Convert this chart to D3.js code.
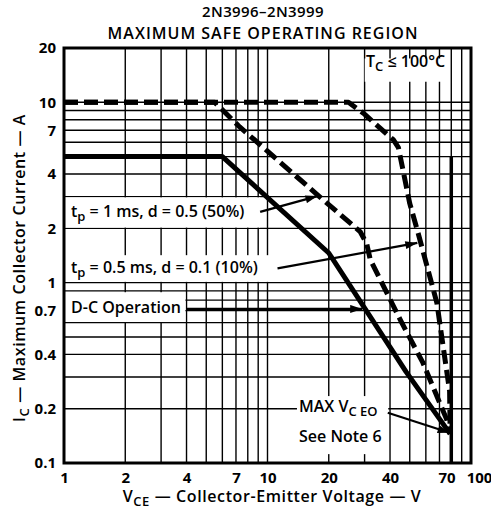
<!DOCTYPE html>
<html><head><meta charset="utf-8">
<script src="https://cdn.jsdelivr.net/npm/d3@7"></script>
<style>
body{margin:0;background:#fff;}
svg{display:block;font-family:"Open Sans","DejaVu Sans",sans-serif;}
</style></head><body>
<script>
// ---- data ----
const vceTicks = [1, 2, 4, 7, 10, 20, 40, 70, 100];
const icTicks = [0.1, 0.2, 0.4, 0.7, 1, 2, 4, 7, 10, 20];
const vceGrid = [2, 3, 4, 5, 6, 7, 8, 9, 10, 20, 30, 40, 50, 60, 70, 80, 90];
const icGrid = [0.2, 0.3, 0.4, 0.5, 0.6, 0.7, 0.8, 0.9, 1, 2, 3, 4, 5, 6, 7, 8, 9, 10];
// D-C operation
const dcV = [1, 6, 20, 48, 79];
const dcI = [5, 5, 1.46, 0.32, 0.145];
// tp = 1 ms, d = 0.5
const p1V = [1, 5.5, 7.3, 18, 28.5, 30.7, 32, 45, 58, 76, 79];
const p1I = [10, 10, 7.3, 3.0, 1.92, 1.65, 1.34, 0.62, 0.36, 0.174, 0.145];
// tp = 0.5 ms, d = 0.1
const p2V = [1, 25, 29.6, 41.5, 44, 50, 55, 68, 78.5, 79];
const p2I = [10, 10, 8.7, 6.2, 5.6, 2.75, 1.88, 0.77, 0.25, 0.145];
// MAX VCEO limit
const vceoV = [80, 80];
const vceoI = [5, 0.1];

const W = 491, H = 513;
const svg = d3.select("body").append("svg").attr("width", W).attr("height", H);
svg.append("rect").attr("width", W).attr("height", H).attr("fill", "#fff");

const x = d3.scaleLog().domain([1, 100]).range([64, 471]);
const y = d3.scaleLog().domain([0.1, 20]).range([463, 48]);

const defs = svg.append("defs");
defs.append("marker").attr("id", "ah").attr("viewBox", "0 0 12 8")
  .attr("refX", 12).attr("refY", 4).attr("markerWidth", 13).attr("markerHeight", 8)
  .attr("markerUnits", "userSpaceOnUse").attr("orient", "auto")
  .append("path").attr("d", "M0,0 L12,4 L0,8 Z").attr("fill", "#000");

// ---- grid ----
const g = svg.append("g");
g.selectAll(".vg").data(vceGrid).join("line")
  .attr("x1", d => x(d)).attr("x2", d => x(d))
  .attr("y1", y(20)).attr("y2", y(0.1))
  .attr("stroke", "#000").attr("stroke-width", 1.4);
g.selectAll(".hg").data(icGrid).join("line")
  .attr("x1", x(1)).attr("x2", x(100))
  .attr("y1", d => y(d)).attr("y2", d => y(d))
  .attr("stroke", "#000").attr("stroke-width", 1.4);

// white label boxes (in data coordinates)
const boxes = [
  [1, 9.2, 2.97, 2.02],
  [1, 11, 1.42, 1.01],
  [1, 3.95, 0.885, 0.605],
  [13.8, 39.2, 0.235, 0.112],
  [29.7, 75, 17.5, 13]
];
svg.selectAll(".box").data(boxes).join("rect")
  .attr("x", d => x(d[0]) + 1).attr("y", d => y(d[2]))
  .attr("width", d => x(d[1]) - x(d[0]) - 1).attr("height", d => y(d[3]) - y(d[2]))
  .attr("fill", "#fff");

// ---- curves ----
const line = d3.line().x(d => x(d[0])).y(d => y(d[1]));
const zip = (a, b) => a.map((v, i) => [v, b[i]]);
svg.append("path").datum(zip(vceoV, vceoI)).attr("d", line)
  .attr("fill", "none").attr("stroke", "#000").attr("stroke-width", 3.5);
svg.append("path").datum(zip(p2V, p2I)).attr("d", line)
  .attr("fill", "none").attr("stroke", "#000").attr("stroke-width", 5)
  .attr("stroke-dasharray", "14,6").attr("stroke-linejoin", "round");
svg.append("path").datum(zip(p1V, p1I)).attr("d", line)
  .attr("fill", "none").attr("stroke", "#000").attr("stroke-width", 5)
  .attr("stroke-dasharray", "14,6").attr("stroke-linejoin", "round");
svg.append("path").datum(zip(dcV, dcI)).attr("d", line)
  .attr("fill", "none").attr("stroke", "#000").attr("stroke-width", 5)
  .attr("stroke-linejoin", "round");

// ---- border ----
svg.append("rect").attr("x", x(1)).attr("y", y(20))
  .attr("width", x(100) - x(1)).attr("height", y(0.1) - y(20))
  .attr("fill", "none").attr("stroke", "#000").attr("stroke-width", 3);

// ---- axes ----
const ya = svg.append("g").attr("transform", `translate(${x(1)},0)`)
  .call(d3.axisLeft(y).tickValues(icTicks).tickFormat(d => String(d)).tickSize(0).tickPadding(8));
ya.select(".domain").remove();
ya.selectAll("text").attr("font-size", 15).attr("font-weight", 700)
  .attr("font-family", "'Open Sans',sans-serif").attr("fill", "#000");
const xa = svg.append("g").attr("transform", `translate(0,${y(0.1)})`)
  .call(d3.axisBottom(x).tickValues(vceTicks).tickFormat(d => String(d)).tickSize(0).tickPadding(9));
xa.select(".domain").remove();
xa.selectAll("text").attr("font-size", 15).attr("font-weight", 700)
  .attr("font-family", "'Open Sans',sans-serif").attr("fill", "#000")
  .attr("dx", d => d === 70 ? 7 : d === 100 ? 8 : 0);

// ---- titles ----
svg.append("text").attr("x", 263).attr("y", 17).attr("text-anchor", "middle")
  .attr("font-size", 15).attr("font-weight", 600).attr("letter-spacing", 0.4).text("2N3996–2N3999");
svg.append("text").attr("x", 263).attr("y", 39).attr("text-anchor", "middle")
  .attr("font-size", 16).attr("font-weight", 600).attr("letter-spacing", 1)
  .text("MAXIMUM SAFE OPERATING REGION");

function sub(t, main, s, rest, subSize) {
  t.append("tspan").text(main);
  t.append("tspan").attr("dy", 4).attr("font-size", subSize).text(s);
  t.append("tspan").attr("dy", -4).text(rest);
  return t;
}
sub(svg.append("text").attr("x", 272).attr("y", 502).attr("text-anchor", "middle")
  .attr("font-size", 16).attr("font-weight", 600).attr("letter-spacing", 0.6),
  "V", "CE", " — Collector-Emitter Voltage — V", 13);
sub(svg.append("text").attr("transform", "translate(25,268) rotate(-90)").attr("text-anchor", "middle")
  .attr("font-size", 16).attr("font-weight", 600).attr("letter-spacing", 0.6),
  "I", "C", " — Maximum Collector Current — A", 13);

// ---- annotations ----
const ann = svg.append("g").attr("font-size", 16).attr("font-weight", 600);
sub(ann.append("text").attr("x", x(1) + 7).attr("y", 217), "t", "p", " = 1 ms, d = 0.5 (50%)", 13);
sub(ann.append("text").attr("x", x(1) + 7).attr("y", 273), "t", "p", " = 0.5 ms, d = 0.1 (10%)", 13);
ann.append("text").attr("x", x(1) + 7).attr("y", 313).text("D-C Operation");
sub(ann.append("text").attr("x", 299).attr("y", 412), "MAX V", "C EO", "", 13);
ann.append("text").attr("x", 299).attr("y", 442).text("See Note 6");
sub(ann.append("text").attr("x", 366).attr("y", 67), "T", "C", " ≤ 100°C", 13);

const arrows = [
  [[9.2, 2.47], [17.6, 3.02]],
  [[11.2, 1.2], [54.5, 1.66]],
  [[4.0, 0.715], [29.2, 0.715]],
  [[39, 0.19], [78.5, 0.147]]
];
svg.selectAll(".arr").data(arrows).join("line")
  .attr("x1", d => x(d[0][0])).attr("y1", d => y(d[0][1]))
  .attr("x2", d => x(d[1][0])).attr("y2", d => y(d[1][1]))
  .attr("stroke", "#000").attr("stroke-width", 2.2).attr("marker-end", "url(#ah)");
</script>
</body></html>
